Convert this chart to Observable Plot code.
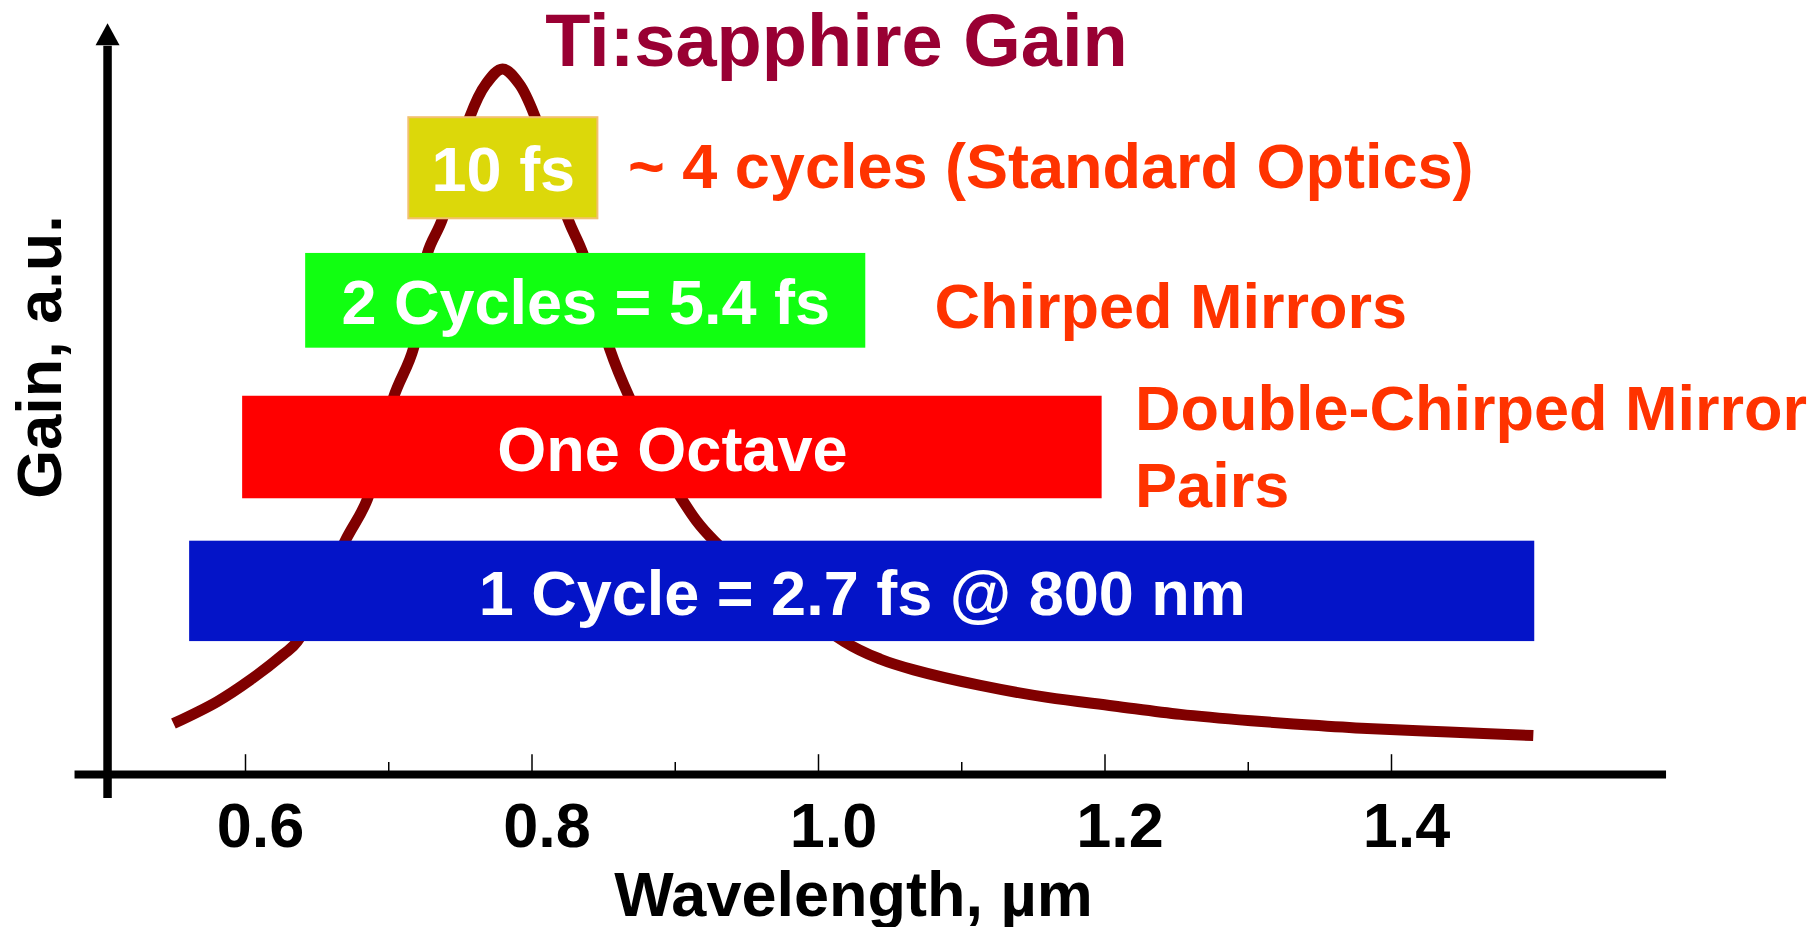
<!DOCTYPE html>
<html><head><meta charset="utf-8">
<script src="https://cdn.jsdelivr.net/npm/d3@7"></script>
<script src="https://cdn.jsdelivr.net/npm/@observablehq/plot@0.6"></script>
<style>html,body{margin:0;padding:0;background:#fff;overflow:hidden}</style>
</head><body><div id="chart"></div>
<script>
// Ti:sapphire gain curve (wavelength in µm, gain in a.u.)
const wavelength = [0.5497, 0.5802, 0.6035, 0.6265, 0.6361, 0.6695, 0.6852, 0.7033, 0.7173, 0.7270, 0.7375, 0.7564, 0.7680, 0.7794, 0.7910, 0.8024, 0.8250, 0.8355, 0.8541, 0.8681, 0.9044, 0.9274, 1.0180, 1.0433, 1.0665, 1.1130, 1.1597, 1.2060, 1.2527, 1.3020, 1.3430, 1.3830, 1.4400, 1.4990];
const gain       = [0.072, 0.103, 0.134, 0.170, 0.188, 0.330, 0.390, 0.533, 0.603, 0.737, 0.786, 0.929, 0.977, 0.998, 0.977, 0.929, 0.786, 0.737, 0.603, 0.533, 0.390, 0.330, 0.188, 0.163, 0.148, 0.126, 0.109, 0.097, 0.085, 0.076, 0.070, 0.065, 0.060, 0.055];

// Bandwidth bars
const bandLabels = ["1 Cycle = 2.7 fs @ 800 nm", "One Octave", "2 Cycles = 5.4 fs", "10 fs"];
const bandStart  = [0.561, 0.598, 0.642, 0.714];
const bandEnd    = [1.500, 1.198, 1.033, 0.846];
const bandLow    = [0.188, 0.390, 0.603, 0.786];
const bandHigh   = [0.330, 0.535, 0.737, 0.929];

// Side annotations
const noteLabels = ["~ 4 cycles (Standard Optics)", "Chirped Mirrors", "Double-Chirped Mirror\nPairs"];
const noteX      = [0.867, 1.081, 1.221];
const noteY      = [0.830, 0.632, 0.379];

// Axis ticks
const majorTicks = [0.6, 0.8, 1.0, 1.2, 1.4];
const minorTicks = [0.7, 0.9, 1.1, 1.3];
const xAxisSpan  = [0.481, 1.592];
const yAxisAt    = 0.5037;
const yAxisSpan  = [-0.034, 1.03];
const arrowAt    = 1.047;

const curve = wavelength.map((w, i) => ({w, g: gain[i]}));
const bands = bandLabels.map((label, i) => ({label, x1: bandStart[i], x2: bandEnd[i], y1: bandLow[i], y2: bandHigh[i]}));
const notes = noteLabels.map((label, i) => ({label, x: noteX[i], y: noteY[i]}));

const bandColor = {
  domain: bandLabels,
  range: ["#0414c8", "#ff0000", "#11ff11", "#dcd80a"]
};
const font = "'Liberation Sans', Arial, Helvetica, sans-serif";
const triangle = {
  draw(context, size) {
    const r = Math.sqrt(size / Math.PI);
    context.moveTo(0, -r * 0.92);
    context.lineTo(r, r * 0.92);
    context.lineTo(-r, r * 0.92);
    context.closePath();
  }
};
const majorLen = 0.028, minorLen = 0.017;

const plot = Plot.plot({
  width: 1816,
  height: 927,
  marginLeft: 245,
  marginRight: 425,
  marginTop: 67,
  marginBottom: 153,
  style: {fontFamily: font, background: "#fff"},
  x: {domain: [0.6, 1.4]},
  y: {domain: [0, 1], axis: null},
  color: bandColor,
  marks: [
    Plot.line(curve, {x: "w", y: "g", stroke: "#800000", strokeWidth: 11, strokeLinecap: "butt", curve: "catmull-rom"}),
    Plot.rect(bands, {x1: "x1", x2: "x2", y1: "y1", y2: "y2", fill: "label"}),
    Plot.rect(bands, {filter: d => d.label === "10 fs", x1: "x1", x2: "x2", y1: "y1", y2: "y2",
      fill: "none", stroke: "#f2c070", strokeWidth: 2}),
    Plot.text(bands, {x: d => (d.x1 + d.x2) / 2, y: d => (d.y1 + d.y2) / 2, text: "label", fill: "white",
      fontSize: 63, fontWeight: "bold", lineAnchor: "middle", dy: 3}),
    Plot.text(notes, {x: "x", y: "y", text: "label", fill: "#ff3300", fontSize: 63, fontWeight: "bold",
      textAnchor: "start", lineAnchor: "bottom", lineHeight: 1.22}),
    // axes
    Plot.ruleX(majorTicks, {y1: 0, y2: majorLen, stroke: "black", strokeWidth: 1.5}),
    Plot.ruleX(minorTicks, {y1: 0, y2: minorLen, stroke: "black", strokeWidth: 1.5}),
    Plot.ruleY([0], {x1: xAxisSpan[0], x2: xAxisSpan[1], stroke: "black", strokeWidth: 8}),
    Plot.ruleX([yAxisAt], {y1: yAxisSpan[0], y2: yAxisSpan[1], stroke: "black", strokeWidth: 8.5}),
    Plot.dot([arrowAt], {x: yAxisAt, y: d => d, symbol: triangle, r: 12, fill: "black", stroke: null}),
    Plot.axisX(majorTicks, {tickSize: 0, tickPadding: 28, tickFormat: d => d.toFixed(1), fontSize: 63,
      fontWeight: "bold", fill: "black", dx: 15, label: null}),
    Plot.text(["Wavelength, µm"], {frameAnchor: "bottom", lineAnchor: "bottom", dx: 35, dy: 141,
      fontSize: 63, fontWeight: "bold", fill: "black"}),
    Plot.text(["Gain, a.u."], {frameAnchor: "left", textAnchor: "middle", lineAnchor: "bottom", rotate: -90,
      dx: -185, dy: -64, fontSize: 63, fontWeight: "bold", fill: "black"}),
    Plot.text(["Ti:sapphire Gain"], {frameAnchor: "top", lineAnchor: "bottom", dx: 18, dy: -2,
      fontSize: 74, fontWeight: "bold", fill: "#990033"})
  ]
});
document.getElementById("chart").append(plot);
</script></body></html>
